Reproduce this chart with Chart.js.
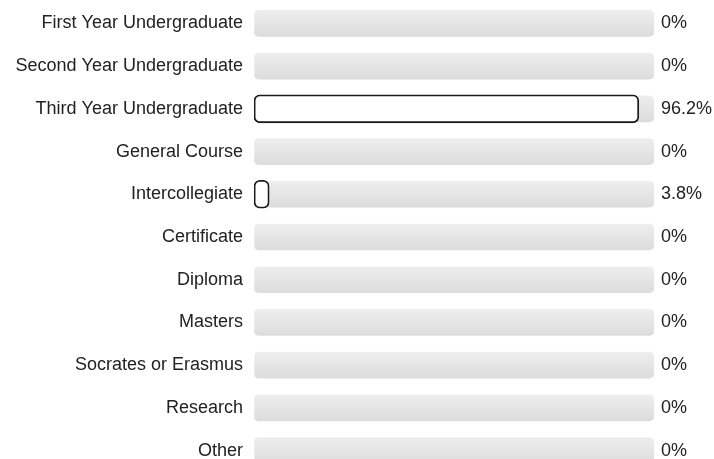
<!DOCTYPE html>
<html lang="en">
<head>
<meta charset="UTF-8">
<title>Course type</title>
<script src="https://cdn.jsdelivr.net/npm/chart.js"></script>
<style>
  html, body { margin: 0; padding: 0; background: #fff; overflow: hidden; }
  #wrap { position: relative; width: 714px; height: 472px; }
</style>
</head>
<body>
<div id="wrap"><canvas id="courseChart"></canvas></div>
<script>
const categories = ['First Year Undergraduate', 'Second Year Undergraduate', 'Third Year Undergraduate',
  'General Course', 'Intercollegiate', 'Certificate', 'Diploma', 'Masters',
  'Socrates or Erasmus', 'Research', 'Other'];
const percentValues = [0, 0, 96.2, 0, 3.8, 0, 0, 0, 0, 0, 0];
const percentLabels = ['0%', '0%', '96.2%', '0%', '3.8%', '0%', '0%', '0%', '0%', '0%', '0%'];
const trackValues = [100, 100, 100, 100, 100, 100, 100, 100, 100, 100, 100];

// grey track with a soft top-to-bottom gradient
function trackFill(c) {
  const chart = c.chart;
  const yScale = chart.scales && chart.scales.y;
  if (!yScale || !chart.chartArea) return '#e4e4e4';
  const y = yScale.getPixelForValue(c.dataIndex);
  const g = chart.ctx.createLinearGradient(0, y - 13, 0, y + 13);
  g.addColorStop(0, '#eeeeee');
  g.addColorStop(1, '#dcdcdc');
  return g;
}

const font = { family: '"Liberation Sans", Arial, sans-serif', size: 18 };

// fixed side widths, no extra padding from the tick labels
function fixAxis(width) {
  return s => { s.width = width; s.paddingTop = 0; s.paddingBottom = 0; };
}

new Chart(document.getElementById('courseChart').getContext('2d'), {
  type: 'bar',
  data: {
    labels: categories,
    datasets: [
      {
        label: 'Share',
        data: percentValues,
        grouped: false,
        barThickness: 28,
        backgroundColor: '#ffffff',
        borderColor: '#1a1a1a',
        borderWidth: c => c.raw > 0 ? 1.8 : 0,
        borderRadius: 6,
        borderSkipped: false
      },
      {
        label: 'Track',
        data: trackValues,
        grouped: false,
        barThickness: 26,
        backgroundColor: trackFill,
        borderWidth: 0,
        borderRadius: 5,
        borderSkipped: false
      }
    ]
  },
  options: {
    indexAxis: 'y',
    responsive: true,
    maintainAspectRatio: false,
    animation: false,
    layout: { padding: { top: 2, bottom: 0, left: 0, right: 0 } },
    plugins: { legend: { display: false }, tooltip: { enabled: false } },
    scales: {
      x: { display: false, min: 0, max: 100 },
      y: {
        position: 'left',
        grid: { display: false, drawTicks: false },
        border: { display: false },
        ticks: { color: '#222', font: font, padding: 11 },
        afterFit: fixAxis(254)
      },
      y2: {
        type: 'category',
        position: 'right',
        labels: percentLabels,
        offset: true,
        grid: { display: false, drawTicks: false },
        border: { display: false },
        ticks: { color: '#222', font: font, padding: 7 },
        afterFit: fixAxis(60)
      }
    }
  }
});
</script>
</body>
</html>
